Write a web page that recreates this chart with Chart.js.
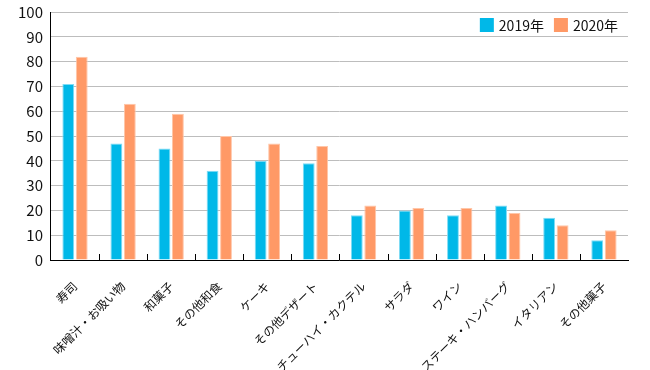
<!DOCTYPE html>
<html>
<head>
<meta charset="utf-8">
<script src="https://cdn.jsdelivr.net/npm/chart.js@4"></script>
<style>
  html, body { margin: 0; padding: 0; background: #fff; }
  #wrap { width: 650px; height: 370px; }
</style>
</head>
<body>
<div id="wrap"><canvas id="chart"></canvas></div>
<script>
const categories = ["寿司", "味噌汁・お吸い物", "和菓子", "その他和食", "ケーキ", "その他デザート",
    "チューハイ・カクテル", "サラダ", "ワイン", "ステーキ・ハンバーグ", "イタリアン", "その他菓子"];
const values2019 = [71, 47, 45, 36, 40, 39, 18, 20, 18, 22, 17, 8];
const values2020 = [82, 63, 59, 50, 47, 46, 22, 21, 21, 19, 14, 12];
const yTicks = [0, 10, 20, 30, 40, 50, 60, 70, 80, 90, 100];

const FONT = "'Noto Sans CJK JP', 'Noto Sans', sans-serif";

// small ticks between categories, pointing up into the plot
const innerTicks = {
    id: "innerTicks",
    afterDraw(chart) {
        const x = chart.scales.x;
        const ctx = chart.ctx;
        const bottom = chart.chartArea.bottom;
        ctx.save();
        ctx.strokeStyle = "#000";
        ctx.lineWidth = 1;
        for (let i = 1; i < categories.length; i++) {
            const px = Math.round((x.getPixelForTick(i - 1) + x.getPixelForTick(i)) / 2) + 0.5;
            ctx.beginPath();
            ctx.moveTo(px, bottom - 6);
            ctx.lineTo(px, bottom);
            ctx.stroke();
        }
        ctx.restore();
    }
};

// legend inside the plot, top right
const cornerLegend = {
    id: "cornerLegend",
    afterDraw(chart) {
        const ctx = chart.ctx;
        const area = chart.chartArea;
        const box = 14, gap = 5, spacing = 10;
        ctx.save();
        ctx.font = "14px " + FONT;
        ctx.textBaseline = "middle";
        const sets = chart.data.datasets;
        const widths = sets.map(d => box + gap + ctx.measureText(d.label).width);
        let total = widths.reduce((a, b) => a + b, 0) + spacing * (sets.length - 1);
        let x = area.right - 10 - total;
        const y = area.top + 6;
        sets.forEach((d, i) => {
            ctx.fillStyle = d.backgroundColor;
            ctx.fillRect(x, y, box, box);
            ctx.fillStyle = "#111";
            ctx.fillText(d.label, x + box + gap, y + box / 2 + 1);
            x += widths[i] + spacing;
        });
        ctx.restore();
    }
};

new Chart(document.getElementById("chart"), {
    type: "bar",
    data: {
        labels: categories,
        datasets: [{
            label: "2019年",
            data: values2019,
            backgroundColor: "#00B8E8",
            borderColor: "#7FDCF5",
            borderWidth: 1,
            categoryPercentage: 0.56,
            barPercentage: 0.88
        }, {
            label: "2020年",
            data: values2020,
            backgroundColor: "#FF9966",
            borderColor: "#FFC6A8",
            borderWidth: 1,
            categoryPercentage: 0.56,
            barPercentage: 0.88
        }]
    },
    options: {
        responsive: true,
        maintainAspectRatio: false,
        animation: false,
        layout: { padding: { top: 12, right: 22, left: 10, bottom: 0 } },
        plugins: {
            legend: { display: false },
            tooltip: { enabled: false }
        },
        scales: {
            x: {
                grid: { display: false },
                border: { color: "#000", width: 1 },
                afterFit: axis => { axis.height = 110; },
                ticks: {
                    color: "#111",
                    maxRotation: 45,
                    minRotation: 45,
                    padding: 11,
                    labelOffset: 0,
                    font: { family: FONT, size: 12 }
                }
            },
            y: {
                min: 0,
                max: 100,
                afterBuildTicks: axis => { axis.ticks = yTicks.map(v => ({ value: v })); },
                afterFit: axis => { axis.paddingTop = 0; axis.paddingBottom = 0; },
                grid: { color: "#BDBDBD", lineWidth: 1, drawTicks: false },
                border: { color: "#000", width: 1 },
                ticks: {
                    color: "#111",
                    padding: 8,
                    font: { family: FONT, size: 15 }
                }
            }
        }
    },
    plugins: [innerTicks, cornerLegend]
});
</script>
</body>
</html>
